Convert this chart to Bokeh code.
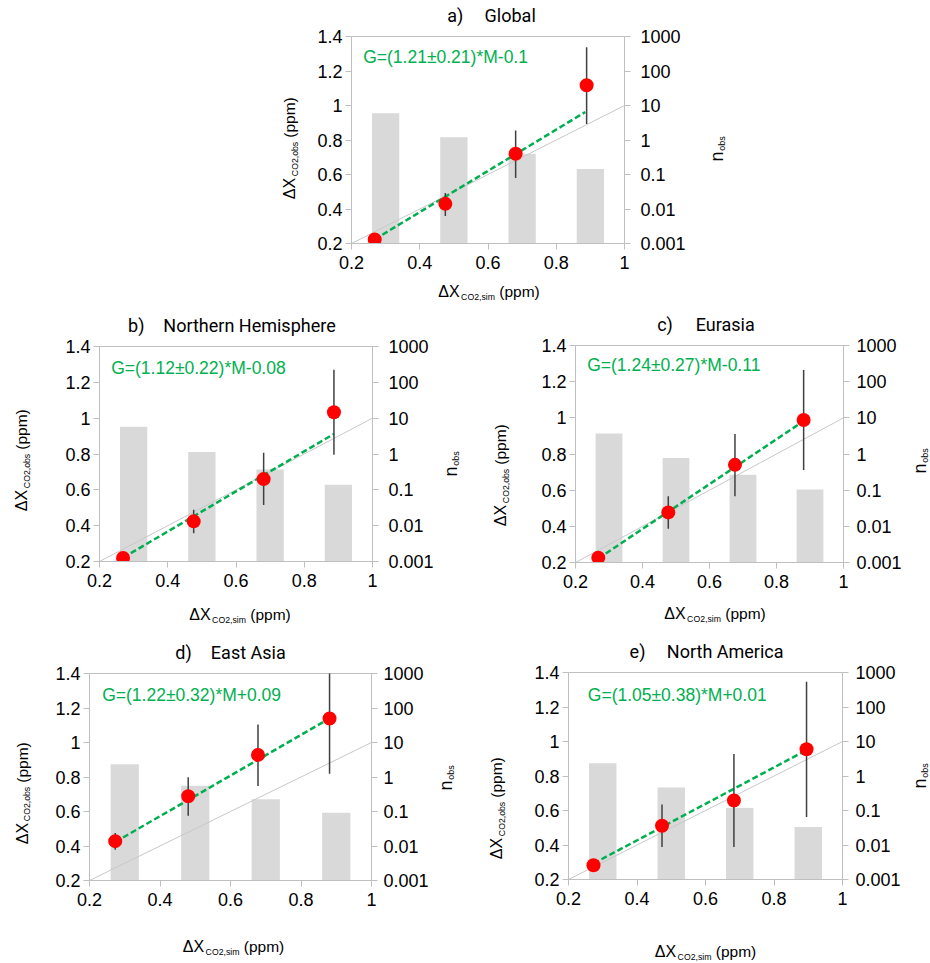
import numpy as np
from bokeh.plotting import figure
from bokeh.models import (Range1d, LogScale, LogAxis, FixedTicker, Label, Spacer,
                          CustomJSTickFormatter)
from bokeh.layouts import column, row
from bokeh.embed import file_html
from bokeh.resources import INLINE

# ---------------- data ----------------
panel_letters = ["a)", "b)", "c)", "d)", "e)"]
regions = ["Global", "Northern Hemisphere", "Eurasia", "East Asia", "North America"]
equations = ["G=(1.21±0.21)*M-0.1", "G=(1.12±0.22)*M-0.08", "G=(1.24±0.27)*M-0.11",
             "G=(1.22±0.32)*M+0.09", "G=(1.05±0.38)*M+0.01"]

x_ticks = [0.2, 0.4, 0.6, 0.8, 1.0]
y_ticks = [0.2, 0.4, 0.6, 0.8, 1.0, 1.2, 1.4]
n_ticks = [0.001, 0.01, 0.1, 1, 10, 100, 1000]
one_to_one = [0.2, 1.0]
bar_x = [0.3, 0.5, 0.7, 0.9]

# a) Global
sim_a = [0.268, 0.475, 0.681, 0.889]
obs_a = [0.223, 0.430, 0.720, 1.117]
lo_a = [0.205, 0.360, 0.580, 0.893]
hi_a = [0.240, 0.493, 0.855, 1.338]
nobs_a = [5.97, 1.21, 0.40, 0.144]
fitx_a = [0.268, 0.885]
fity_a = [0.224, 0.962]

# b) Northern Hemisphere
sim_b = [0.269, 0.476, 0.681, 0.887]
obs_b = [0.220, 0.424, 0.660, 1.033]
lo_b = [0.205, 0.357, 0.515, 0.796]
hi_b = [0.235, 0.489, 0.807, 1.270]
nobs_b = [5.8, 1.14, 0.37, 0.139]
fitx_b = [0.269, 0.887]
fity_b = [0.221, 0.912]

# c) Eurasia
sim_c = [0.268, 0.477, 0.676, 0.881]
obs_c = [0.226, 0.477, 0.740, 0.988]
lo_c = [0.210, 0.386, 0.566, 0.711]
hi_c = [0.240, 0.567, 0.911, 1.264]
nobs_c = [3.68, 0.77, 0.267, 0.105]
fitx_c = [0.268, 0.881]
fity_c = [0.222, 0.982]

# d) East Asia
sim_d = [0.273, 0.480, 0.678, 0.881]
obs_d = [0.428, 0.688, 0.928, 1.139]
lo_d = [0.378, 0.575, 0.748, 0.819]
hi_d = [0.475, 0.798, 1.104, 1.460]
nobs_d = [2.34, 0.56, 0.225, 0.092]
fitx_d = [0.273, 0.881]
fity_d = [0.423, 1.140]

# e) North America
sim_e = [0.273, 0.473, 0.683, 0.895]
obs_e = [0.283, 0.512, 0.658, 0.955]
lo_e = [0.265, 0.389, 0.389, 0.562]
hi_e = [0.300, 0.635, 0.928, 1.346]
nobs_e = [2.35, 0.467, 0.118, 0.033]
fitx_e = [0.273, 0.895]
fity_e = [0.293, 0.950]

panels = [
    (sim_a, obs_a, lo_a, hi_a, nobs_a, fitx_a, fity_a),
    (sim_b, obs_b, lo_b, hi_b, nobs_b, fitx_b, fity_b),
    (sim_c, obs_c, lo_c, hi_c, nobs_c, fitx_c, fity_c),
    (sim_d, obs_d, lo_d, hi_d, nobs_d, fitx_d, fity_d),
    (sim_e, obs_e, lo_e, hi_e, nobs_e, fitx_e, fity_e),
]

# ---------------- layout (page pixels, origin at top-left of page) ----------------
geoms = [
    dict(box=(240, 0, 770, 305), frame=(351, 36, 273, 207), T=26, L=65, R=76, B=26, rs=10),
    dict(box=(0, 305, 468, 630), frame=(99, 346, 273, 215), T=31, L=50, R=28, B=33, rs=10),
    dict(box=(468, 305, 930, 630), frame=(575, 345, 268, 217), T=30, L=60, R=21, B=32, rs=7),
    dict(box=(0, 630, 468, 963), frame=(89, 673, 282, 207), T=33, L=42, R=33, B=47, rs=6),
    dict(box=(468, 630, 930, 963), frame=(568, 672, 274, 207), T=32, L=52, R=22, B=48, rs=7),
]
title_pos = [((454.7, 15.3), (509.7, 15.3)), ((135.8, 325.3), (249, 325.3)),
             ((664.5, 324.3), (724.7, 324.3)), ((183, 652.3), (247.8, 652.3)),
             ((637, 651.3), (724.7, 651.3))]
eq_pos = [(362.7, 56.7), (110.7, 367.3), (586.7, 364), (101.7, 694), (587.3, 694)]
ylab_pos = [(289, 178), (21, 490), (500, 505), (21.7, 823), (496, 838)]
xlab_pos = [(448.5, 291), (199.5, 614), (674.5, 613), (193, 946), (665, 951)]
nlab_pos = [(716, 146), (450.5, 461), (919.5, 458), (445, 775), (919, 773)]

GREEN = "#00b050"
AX = "#bfbfbf"
TICKFONT = "Liberation Sans"
TITLEFONT = "Roboto"


def blank(w, h):
    f = figure(frame_width=w, frame_height=h, min_border=0,
               x_range=Range1d(0, w), y_range=Range1d(h, 0),
               x_axis_type=None, y_axis_type=None,
               output_backend="svg", toolbar_location=None)
    f.title.visible = False
    f.outline_line_color = None
    f.background_fill_color = "white"
    f.border_fill_color = "white"
    return f


def make_panel(i):
    g = geoms[i]
    x0, y0, x1, y1 = g["box"]
    fl, ft, fw, fh = g["frame"]
    T, L, R, B = g["T"], g["L"], g["R"], g["B"]
    sim, obs, lo, hi, nobs, fitx, fity = panels[i]

    ml = fl - (x0 + L)
    mr = (x1 - R) - (fl + fw)
    mt = ft - (y0 + T)
    mb = (y1 - B) - (ft + fh)

    p = figure(frame_width=fw, frame_height=fh,
               min_border_left=ml, min_border_right=mr,
               min_border_top=mt, min_border_bottom=mb,
               x_range=Range1d(0.2, 1.0), y_range=Range1d(0.2, 1.4),
               output_backend="svg", toolbar_location=None)
    p.title.visible = False
    p.xgrid.visible = False
    p.ygrid.visible = False
    p.outline_line_color = AX
    p.background_fill_color = "white"
    p.border_fill_color = "white"

    lax = p.yaxis[0]
    bax = p.xaxis[0]
    bax.ticker = FixedTicker(ticks=x_ticks)
    lax.ticker = FixedTicker(ticks=y_ticks)
    fmt = CustomJSTickFormatter(code="return String(Number(tick.toFixed(3)))")
    bax.formatter = fmt
    lax.formatter = fmt

    p.extra_y_ranges = {"n": Range1d(0.001, 1000)}
    p.extra_y_scales = {"n": LogScale()}
    rax = LogAxis(y_range_name="n", ticker=FixedTicker(ticks=n_ticks),
                  formatter=CustomJSTickFormatter(code="return String(tick)"))
    p.add_layout(rax, "right")

    for ax in [bax, lax, rax]:
        ax.axis_label = None
        ax.axis_line_color = AX
        ax.major_tick_line_color = AX
        ax.minor_tick_line_color = None
        ax.major_tick_in = 0
        ax.major_tick_out = 6
        ax.major_label_text_font = TICKFONT
        ax.major_label_text_font_size = "18px"
        ax.major_label_text_color = "#000000"
    bax.major_label_standoff = 6
    lax.major_label_standoff = 3
    rax.major_label_standoff = g["rs"]

    # glyphs
    p.vbar(x=bar_x, width=0.08, top=nobs, bottom=n_ticks[0], y_range_name="n",
           fill_color="#d9d9d9", line_color=None)
    p.line(one_to_one, one_to_one, line_color="#c8c8c8", line_width=1)
    p.line(fitx, fity, line_color=GREEN, line_width=2.5, line_dash="6 3")
    p.segment(x0=sim, y0=lo, x1=sim, y1=hi, line_color="#404040", line_width=1.5)
    p.scatter(sim, obs, size=14, fill_color="#ff0000", line_color=None)

    # strips around the main figure, for texts outside the plot frame
    top = blank(x1 - x0, T)
    left = blank(L, y1 - y0 - T - B)
    right = blank(R, y1 - y0 - T - B)
    bottom = blank(x1 - x0, B)
    strips = {"T": (top, x0, y0), "L": (left, x0, y0 + T),
              "R": (right, x1 - R, y0 + T), "B": (bottom, x0, y1 - B)}

    def put(px, py, **kw):
        if py < y0 + T:
            key = "T"
        elif py >= y1 - B:
            key = "B"
        elif px < x0 + L:
            key = "L"
        elif px >= x1 - R:
            key = "R"
        else:
            key = None
        if key is None:
            xd = 0.2 + (px - fl) / fw * 0.8
            yd = 1.4 - (py - ft) / fh * 1.2
            p.add_layout(Label(x=xd, y=yd, **kw))
        else:
            f, sx, sy = strips[key]
            f.add_layout(Label(x=px - sx, y=py - sy, **kw))

    common = dict(text_align="center", text_baseline="middle", text_color="#000000")
    (lx, ly), (rx, ry) = title_pos[i]
    put(lx, ly, text=panel_letters[i], text_font=TITLEFONT, text_font_size="18px", **common)
    put(rx, ry, text=regions[i], text_font=TITLEFONT, text_font_size="18px", **common)

    ex, ey = eq_pos[i]
    put(ex, ey, text=equations[i], text_font=TICKFONT, text_font_size="17.5px",
        text_align="left", text_baseline="middle", text_color=GREEN)

    xx, xy = xlab_pos[i]
    for txt, ox, oy, fs in [("ΔX", 0, 0, "16px"), ("CO2,sim", 29, 5, "8.7px"),
                            ("(ppm)", 70.5, 0, "15.5px")]:
        put(xx + ox, xy + oy, text=txt, text_font=TICKFONT, text_font_size=fs, **common)

    yx, yy = ylab_pos[i]
    for txt, ox, oy, fs in [("ΔX", 0, 0, "16px"), ("CO2,obs", 5, -29.5, "8.7px"),
                            ("(ppm)", 0, -71, "15.5px")]:
        put(yx + ox, yy + oy, text=txt, text_font=TICKFONT, text_font_size=fs,
            angle=np.pi / 2, **common)

    nx, ny = nlab_pos[i]
    for txt, ox, oy, fs in [("n", 0, 0, "18px"), ("obs", 5, -13, "9px")]:
        put(nx + ox, ny + oy, text=txt, text_font=TICKFONT, text_font_size=fs,
            angle=np.pi / 2, **common)

    return column(top, row(left, p, right), bottom)


blocks = [make_panel(i) for i in range(5)]
layout = column(
    row(Spacer(width=geoms[0]["box"][0], height=10), blocks[0]),
    row(blocks[1], blocks[2]),
    row(blocks[3], blocks[4]),
)

open("out.html", "w").write(file_html(layout, INLINE))
